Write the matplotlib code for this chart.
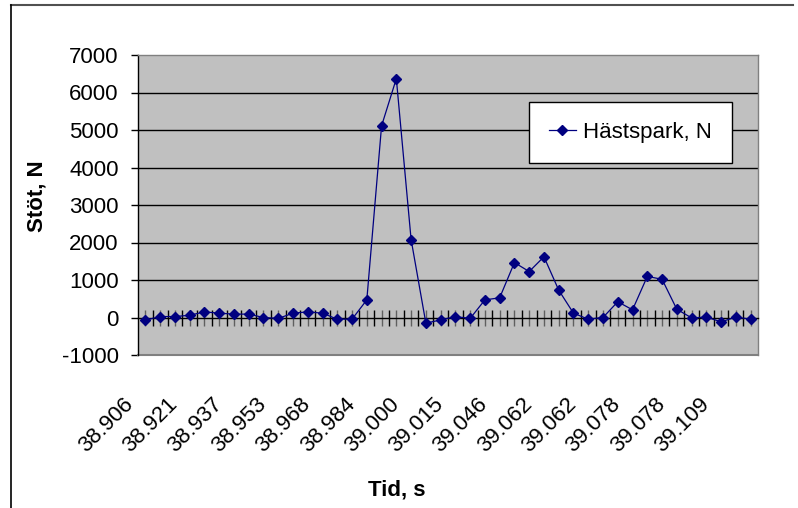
import numpy as np
import matplotlib
matplotlib.use('Agg')
import matplotlib.pyplot as plt
from matplotlib.lines import Line2D
from matplotlib.transforms import blended_transform_factory, offset_copy

# data (Excel-style line chart, 42 categories)
tid_labels = ['38.906', '38.921', '38.937', '38.953', '38.968', '38.984', '39.000',
              '39.015', '39.046', '39.062', '39.062', '39.078', '39.078', '39.109']
stot = [-70, 25, 25, 60, 150, 115, 90, 90, 0, -25,
        115, 150, 115, -45, -45, 470, 5110, 6370, 2080, -150,
        -65, 25, -25, 470, 525, 1465, 1225, 1620, 730, 115,
        -45, 0, 420, 205, 1095, 1020, 220, -10, 10, -115,
        10, -45]
serie_namn = 'Hästspark, N'

plt.rcParams['font.family'] = ['Liberation Sans', 'DejaVu Sans']
plt.rcParams['axes.unicode_minus'] = False
W, H = 798, 508
fig = plt.figure(figsize=(W / 100, H / 100), dpi=100)
ax = fig.add_axes([138 / W, 1 - 355 / H, 620 / W, 300 / H])

x = np.arange(len(stot))
ax.set_facecolor('#C0C0C0')
ax.plot(x, stot, color='#000080', lw=0.9, marker='D', ms=5.2,
        mfc='#000080', mec='#000080', label=serie_namn, zorder=5)

ax.set_xlim(-0.5, len(stot) - 0.5)
ax.set_ylim(-1000, 7000)
ax.set_yticks(np.arange(-1000, 7001, 1000))
for g in range(1000, 7000, 1000):
    ax.axhline(g, color='black', lw=1, zorder=1)

# spines
for s in ['top', 'right']:
    ax.spines[s].set_color('#808080')
    ax.spines[s].set_linewidth(1)
ax.spines['left'].set_color('black')
ax.spines['left'].set_linewidth(1)
ax.spines['bottom'].set_position(('data', 0))
ax.spines['bottom'].set_color('black')
ax.spines['bottom'].set_linewidth(1)
ax.spines['bottom'].set_zorder(3)
ax.axhline(-1000, color='#808080', lw=1.5, zorder=2, clip_on=False)

ax.tick_params(axis='y', direction='out', length=5, width=1, pad=9,
               labelsize=16, colors='black')
ax.set_xticks(np.arange(0.5, len(stot) - 0.5, 1.0))
ax.set_xticks(np.arange(0, len(stot)), minor=True)
ax.tick_params(axis='x', which='major', direction='inout', length=12,
               width=1, color='black', labelbottom=False)
ax.tick_params(axis='x', which='minor', direction='inout', length=12,
               width=1, color='#606060', labelbottom=False)

# category labels every third category, below the plot area
tr = blended_transform_factory(ax.transData, fig.transFigure)
tr = offset_copy(tr, fig=fig, x=-15, y=0, units='dots')
for i, lab in enumerate(tid_labels):
    ax.text(3 * i, 1 - 401 / H, lab, transform=tr, rotation=45,
            rotation_mode='anchor', ha='right', va='center', fontsize=16)

fig.text(37 / W, 1 - 196 / H, 'Stöt, N', rotation=90, ha='center',
         va='center', fontsize=16, fontweight='bold')
fig.text(397 / W, 1 - 490 / H, 'Tid, s', ha='center', va='center',
         fontsize=16, fontweight='bold')

leg = ax.legend(loc='upper left', bbox_to_anchor=(529 / W, 1 - 102 / H),
                bbox_transform=fig.transFigure, borderaxespad=0,
                fontsize=16, frameon=True, fancybox=False, borderpad=0.9,
                handlelength=1.2, handletextpad=0.35, framealpha=1)
leg.get_frame().set_edgecolor('black')
leg.get_frame().set_linewidth(1)

# outer frame (top and left only)
fig.add_artist(Line2D([11 / W, 793 / W], [1 - 5 / H, 1 - 5 / H],
                      transform=fig.transFigure, color='#505050', lw=1.5))
fig.add_artist(Line2D([11 / W, 11 / W], [1 - 5 / H, 0],
                      transform=fig.transFigure, color='black', lw=1.2))

fig.savefig('out.png', dpi=100)
